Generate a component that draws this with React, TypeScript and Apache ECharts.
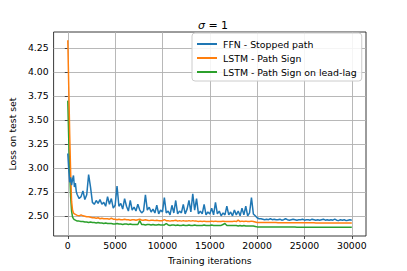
import React, { useEffect, useRef } from "react";
import * as echarts from "echarts";

// iterations at which the losses were recorded
const ITER: number[] = [];
for (let i = 0; i <= 1000; i += 100) ITER.push(i);
for (let i = 1200; i <= 30000; i += 200) ITER.push(i);

const FFN = [
  3.15, 2.98, 2.85, 2.9, 2.82, 2.88, 2.92, 2.8, 2.84, 2.75, 2.72,
  2.68, 2.7, 2.76, 2.67, 2.72, 2.93, 2.8, 2.64, 2.62, 2.66, 2.63, 2.67, 2.62, 2.64, 2.6,
  2.7, 2.62, 2.68, 2.58, 2.61, 2.81, 2.6, 2.63, 2.57, 2.68, 2.6, 2.55, 2.66, 2.56, 2.59,
  2.55, 2.62, 2.56, 2.53, 2.55, 2.72, 2.56, 2.59, 2.54, 2.57, 2.53, 2.61, 2.52, 2.56, 2.54,
  2.69, 2.53, 2.55, 2.51, 2.61, 2.53, 2.66, 2.52, 2.55, 2.53, 2.62, 2.52, 2.57, 2.66, 2.54,
  2.73, 2.56, 2.68, 2.52, 2.55, 2.52, 2.62, 2.51, 2.54, 2.52, 2.58, 2.51, 2.64, 2.52, 2.55,
  2.5, 2.53, 2.51, 2.6, 2.51, 2.54, 2.5, 2.56, 2.51, 2.55, 2.5, 2.58, 2.51, 2.6, 2.5,
  2.53, 2.69, 2.52, 2.5, 2.48,
  2.47, 2.47, 2.465, 2.46, 2.465, 2.46, 2.47, 2.46, 2.465, 2.46,
  2.46, 2.465, 2.455, 2.46, 2.47, 2.46, 2.455, 2.46, 2.465, 2.46,
  2.455, 2.46, 2.46, 2.465, 2.455, 2.46, 2.46, 2.455, 2.465, 2.46,
  2.455, 2.46, 2.455, 2.46, 2.465, 2.455, 2.46, 2.455, 2.46, 2.455,
  2.465, 2.455, 2.45, 2.46, 2.455, 2.46, 2.45, 2.455, 2.46, 2.455,
];

const LSTM = [
  4.33, 3.85, 3.35, 2.95, 2.65, 2.56, 2.53, 2.52, 2.515, 2.51, 2.505,
  2.5, 2.51, 2.5, 2.495, 2.49, 2.49, 2.485, 2.48, 2.48, 2.475, 2.48, 2.47, 2.475, 2.47, 2.47,
  2.47, 2.465, 2.475, 2.465, 2.465, 2.46, 2.465, 2.46, 2.46, 2.465, 2.46, 2.46, 2.455, 2.46, 2.46,
  2.455, 2.46, 2.465, 2.455, 2.455, 2.46, 2.455, 2.45, 2.455, 2.455, 2.45, 2.455, 2.45, 2.45, 2.45,
  2.46, 2.45, 2.45, 2.445, 2.45, 2.45, 2.455, 2.445, 2.45, 2.445, 2.45, 2.445, 2.445, 2.45, 2.445,
  2.45, 2.445, 2.445, 2.44, 2.445, 2.44, 2.445, 2.44, 2.44, 2.44, 2.445, 2.44, 2.445, 2.44, 2.44,
  2.44, 2.445, 2.44, 2.44, 2.44, 2.44, 2.44, 2.445, 2.44, 2.455, 2.44, 2.445, 2.44, 2.445, 2.44,
  2.44, 2.445, 2.44, 2.435, 2.43,
  2.43, 2.43, 2.43, 2.43, 2.43, 2.43, 2.43, 2.43, 2.43, 2.43,
  2.428, 2.428, 2.428, 2.428, 2.428, 2.428, 2.428, 2.428, 2.428, 2.428,
  2.427, 2.427, 2.427, 2.427, 2.427, 2.427, 2.427, 2.427, 2.427, 2.427,
  2.426, 2.426, 2.426, 2.426, 2.426, 2.426, 2.426, 2.426, 2.426, 2.426,
  2.425, 2.425, 2.425, 2.425, 2.425, 2.425, 2.425, 2.425, 2.425, 2.425,
];

const LEADLAG = [
  3.7, 3.3, 2.95, 2.7, 2.55, 2.49, 2.47, 2.46, 2.455, 2.45, 2.445,
  2.445, 2.44, 2.44, 2.435, 2.435, 2.43, 2.435, 2.43, 2.43, 2.425, 2.43, 2.425, 2.425, 2.42, 2.425,
  2.42, 2.42, 2.42, 2.415, 2.415, 2.42, 2.415, 2.415, 2.41, 2.415, 2.415, 2.41, 2.415, 2.41, 2.41,
  2.41, 2.41, 2.45, 2.41, 2.41, 2.405, 2.41, 2.41, 2.405, 2.41, 2.405, 2.405, 2.41, 2.405, 2.405,
  2.405, 2.42, 2.405, 2.4, 2.405, 2.405, 2.4, 2.405, 2.4, 2.4, 2.405, 2.4, 2.4, 2.405, 2.4,
  2.4, 2.405, 2.4, 2.4, 2.4, 2.4, 2.405, 2.4, 2.4, 2.4, 2.405, 2.4, 2.4, 2.4, 2.4,
  2.4, 2.41, 2.42, 2.4, 2.4, 2.4, 2.4, 2.4, 2.4, 2.395, 2.4, 2.395, 2.4, 2.395, 2.395,
  2.395, 2.395, 2.395, 2.39, 2.385,
  2.385, 2.385, 2.385, 2.385, 2.385, 2.385, 2.385, 2.385, 2.385, 2.385,
  2.383, 2.383, 2.383, 2.383, 2.383, 2.383, 2.383, 2.383, 2.383, 2.383,
  2.382, 2.382, 2.382, 2.382, 2.382, 2.382, 2.382, 2.382, 2.382, 2.382,
  2.381, 2.381, 2.381, 2.381, 2.381, 2.381, 2.381, 2.381, 2.381, 2.381,
  2.38, 2.38, 2.38, 2.38, 2.38, 2.38, 2.38, 2.38, 2.38, 2.38,
];

const SERIES_NAMES = ["FFN - Stopped path", "LSTM - Path Sign", "LSTM - Path Sign on lead-lag"];
const COLORS = ["#1f77b4", "#ff7f0e", "#2ca02c"];
const X_TICKS = [0, 5000, 10000, 15000, 20000, 25000, 30000];
const Y_TICKS = [2.5, 2.75, 3.0, 3.25, 3.5, 3.75, 4.0, 4.25];

const FONT = "DejaVu Sans";

export default function App() {
  const ref = useRef<HTMLDivElement>(null);
  useEffect(() => {
    if (!ref.current) return;
    document.body.style.margin = "0";
    const chart = echarts.init(ref.current, null, { renderer: "svg" });
    const values = [FFN, LSTM, LEADLAG];
    chart.setOption({
      animation: false,
      backgroundColor: "#ffffff",
      title: {
        text: "{i|σ} = 1",
        left: 208,
        textAlign: "center",
        top: 15,
        textStyle: {
          fontFamily: FONT,
          fontSize: 11,
          fontWeight: "normal",
          color: "#000",
          rich: { i: { fontFamily: FONT, fontSize: 11, fontStyle: "italic", color: "#000" } },
        },
      },
      grid: {
        left: 51,
        right: 41,
        top: 32,
        bottom: 35,
        show: true,
        borderColor: "#222",
        borderWidth: 0.9,
        backgroundColor: "transparent",
      },
      legend: {
        orient: "vertical",
        left: 192,
        top: 33,
        padding: [5, 5, 3, 5],
        itemGap: 2,
        itemWidth: 20,
        itemHeight: 2,
        icon: "rect",
        backgroundColor: "rgba(255,255,255,0.85)",
        borderColor: "#cccccc",
        borderWidth: 1,
        borderRadius: 3,
        textStyle: { fontFamily: FONT, fontSize: 9.4, color: "#000", lineHeight: 12, padding: [0, 0, 0, 1] },
        data: SERIES_NAMES,
      },
      xAxis: {
        type: "value",
        min: -1500,
        max: 31500,
        name: "Training iterations",
        nameLocation: "middle",
        nameGap: 20,
        nameTextStyle: { fontFamily: FONT, fontSize: 9.3, color: "#000" },
        axisLine: { show: false },
        axisTick: { show: true, customValues: X_TICKS, length: 3, lineStyle: { color: "#222", width: 0.8 } },
        axisLabel: {
          customValues: X_TICKS,
          fontFamily: FONT,
          fontSize: 9.3,
          color: "#000",
          margin: 5,
          formatter: (v: number) => String(v),
        },
        splitLine: { show: true, customValues: X_TICKS, lineStyle: { color: "#b0b0b0", width: 0.9 } },
      },
      yAxis: {
        type: "value",
        min: 2.29,
        max: 4.415,
        name: "Loss on test set",
        nameLocation: "middle",
        nameGap: 34,
        nameTextStyle: { fontFamily: FONT, fontSize: 9.3, color: "#000" },
        axisLine: { show: false },
        axisTick: { show: true, customValues: Y_TICKS, length: 3, lineStyle: { color: "#222", width: 0.8 } },
        axisLabel: {
          customValues: Y_TICKS,
          fontFamily: FONT,
          fontSize: 9.3,
          color: "#000",
          margin: 5,
          formatter: (v: number) => v.toFixed(2),
        },
        splitLine: { show: true, customValues: Y_TICKS, lineStyle: { color: "#b0b0b0", width: 0.9 } },
      },
      series: SERIES_NAMES.map((name, k) => ({
        name,
        type: "line",
        data: ITER.map((x, i) => [x, values[k][i]]),
        showSymbol: false,
        symbol: "none",
        color: COLORS[k],
        lineStyle: { width: 1.5, color: COLORS[k] },
        z: 3 - k,
      })),
    });
    return () => chart.dispose();
  }, []);
  return <div ref={ref} style={{ width: 407, height: 271 }} />;
}
